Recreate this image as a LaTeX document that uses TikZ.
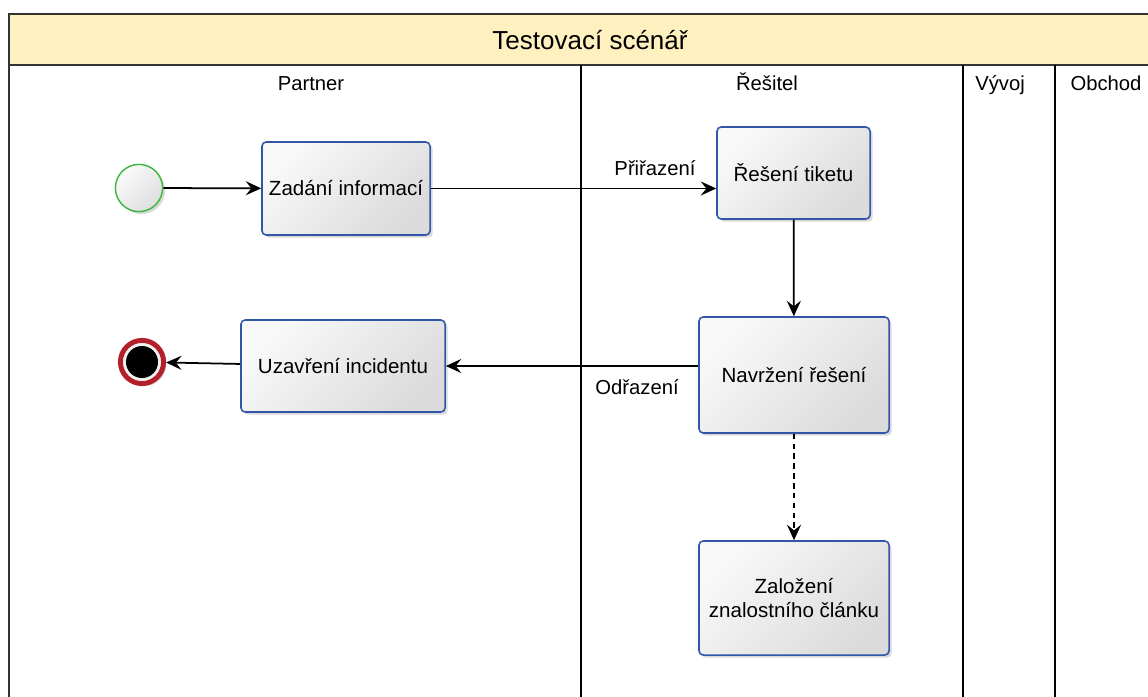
\documentclass[tikz,border=0pt]{standalone}
\usepackage{fontspec}
\setmainfont{Liberation Sans}
\usetikzlibrary{arrows.meta,shadows}

\definecolor{titlefill}{HTML}{FFF1BF}
\definecolor{taskblue}{HTML}{2F56A8}
\definecolor{startgreen}{HTML}{3CB83C}
\definecolor{endred}{HTML}{B3202A}

\tikzset{
  task/.style={draw=taskblue, line width=1.1pt, rounded corners=3pt,
    top color=gray!5, bottom color=gray!28, shading angle=45,
    drop shadow={shadow xshift=1.8pt, shadow yshift=-1.8pt, opacity=0.3},
    align=center, inner sep=0pt, font=\fontsize{14.6}{17}\selectfont},
  flow/.style={line width=1.25pt, -{Stealth[length=11pt,width=10pt,inset=4pt]}},
  lane/.style={line width=0.8pt},
  lbl/.style={font=\fontsize{14.4}{17}\selectfont, inner sep=0pt}
}

\begin{document}
\begin{tikzpicture}[x=0.025cm, y=-0.025cm]

    % Page size
    \useasboundingbox (0,0) rectangle (1148,696);
    \clip (0,0) rectangle (1148,696);
    \fill[white] (0,0) rectangle (1148,696);

    % Pool frame and title band
    \filldraw[fill=titlefill, draw=black!80, lane] (9,14) rectangle (1160,65);
    \draw[black!80, lane] (9,14) -- (9,700);
    \node[font=\fontsize{18.5}{22}\selectfont] (titul) at (590,40) {Testovací scénář};

    % Lane dividers
    \draw[lane] (581,65) -- (581,700);
    \draw[lane] (963,65) -- (963,700);
    \draw[lane] (1055,65) -- (1055,700);

    % Lane names
    \node[lbl, anchor=base] (partner) at (311,91) {Partner};
    \node[lbl, anchor=base] (resitel) at (767,91) {Řešitel};
    \node[lbl, anchor=base] (vyvoj) at (1000,91) {Vývoj};
    \node[lbl, anchor=base] (obchod) at (1106,91) {Obchod};

    % Start and end events
    \node[circle, draw=startgreen, line width=1pt, top color=gray!4, bottom color=gray!26, shading angle=45,
      minimum size=1.18cm, inner sep=0pt,
      drop shadow={shadow xshift=1.8pt, shadow yshift=-1.8pt, opacity=0.3}] (start) at (139,188) {};
    \node[circle, draw=endred, line width=3.5pt, fill=gray!12, minimum size=1.08cm, inner sep=0pt,
      drop shadow={shadow xshift=1.8pt, shadow yshift=-1.8pt, opacity=0.3}] (konec) at (142,362) {};
    \node[circle, fill=black, minimum size=0.8cm, inner sep=0pt] (konecjadro) at (konec) {};

    % Tasks
    \node[task, minimum width=4.2cm, minimum height=2.325cm] (zadani) at (346,188.5) {Zadání informací};
    \node[task, minimum width=3.825cm, minimum height=2.3cm] (tiket) at (793.5,173) {Řešení tiketu};
    \node[task, minimum width=4.75cm, minimum height=2.9cm] (navrh) at (794,375) {Navržení řešení};
    \node[task, minimum width=5.1cm, minimum height=2.3cm] (uzavreni) at (343,366) {Uzavření incidentu};
    \node[task, minimum width=4.75cm, minimum height=2.85cm] (zalozeni) at (794,598) {Založení\\znalostního článku};

    % Flows
    \draw[flow] (start) -- (zadani);
    \draw[flow] (zadani.east) -- (zadani.east -| tiket.west);
    \draw[flow] (tiket) -- (navrh);
    \draw[flow] (uzavreni.east -| navrh.west) -- (uzavreni.east);
    \draw[flow] (uzavreni) -- (konec);
    \draw[flow, dash pattern=on 4pt off 3pt] (navrh) -- (zalozeni);

    % Flow labels
    \node[lbl] (prirazeni) at (655,168) {Přiřazení};
    \node[lbl] (odrazeni) at (637,387) {Odřazení};

\end{tikzpicture}
\end{document}
